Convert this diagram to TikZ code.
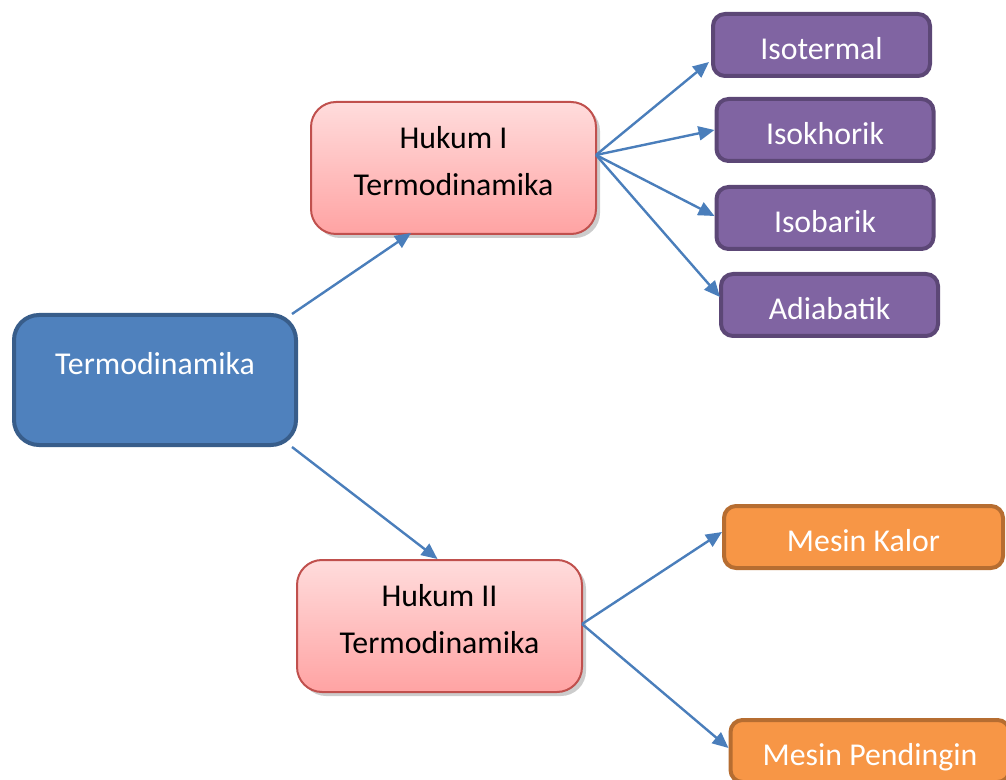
\documentclass[tikz,border=0pt]{standalone}
\usepackage{fontspec}
\setmainfont{Carlito}
\usetikzlibrary{arrows.meta}
\usetikzlibrary{shadows}
\definecolor{topicfill}{HTML}{4F81BD}
\definecolor{topicedge}{HTML}{385D8A}
\definecolor{lawtop}{HTML}{FFDCDC}
\definecolor{lawbottom}{HTML}{FFA3A3}
\definecolor{lawedge}{HTML}{C0504D}
\definecolor{procfill}{HTML}{8064A2}
\definecolor{procedge}{HTML}{5C4776}
\definecolor{machfill}{HTML}{F79646}
\definecolor{machedge}{HTML}{B66D31}
\definecolor{linkblue}{HTML}{4A7EBB}
\tikzset{boxfont/.style = {font=\fontsize{15.9pt}{23.5pt}\selectfont, inner sep=0pt}}
\tikzset{topicbox/.style = {boxfont, draw=topicedge, line width=2pt, fill=topicfill, text=white,
                            rounded corners=12.5pt, minimum width=141pt, minimum height=65pt,
                            text height=10.2pt, text depth=15.9pt}}
\tikzset{lawbox/.style = {boxfont, draw=lawedge, line width=1pt, top color=lawtop, bottom color=lawbottom,
                          rounded corners=12.5pt, minimum width=142.5pt, minimum height=66pt, align=center,
                          text height=34.2pt, text depth=7pt,
                          drop shadow={shadow xshift=2pt, shadow yshift=-2pt, opacity=0.4}}}
\tikzset{procbox/.style = {boxfont, draw=procedge, line width=2pt, fill=procfill, text=white,
                           rounded corners=6pt, minimum width=108.5pt, minimum height=31pt,
                           text height=14.3pt, text depth=0pt}}
\tikzset{machbox/.style = {boxfont, draw=machedge, line width=2pt, fill=machfill, text=white,
                           rounded corners=6pt, minimum width=139.5pt, minimum height=31pt,
                           text height=14.3pt, text depth=0pt}}
\tikzset{link/.style = {draw=linkblue, line width=1.2pt, -{Triangle[length=8pt,width=7pt]}}}

\begin{document}
\begin{tikzpicture}[x=0.5pt, y=-0.5pt]
        \useasboundingbox (0,0) rectangle (1006,780);
        \clip (0,0) rectangle (1006,780);
        \node[topicbox] (termo) at (155,380) {Termodinamika};
        \node[lawbox] (hukum1) at (453.5,168) {Hukum I\\Termodinamika};
        \node[lawbox] (hukum2) at (439.5,626) {Hukum II\\Termodinamika};
        \node[procbox] (isoterm) at (821.5,45) {Isotermal};
        \node[procbox] (isokhor) at (825,130) {Isokhorik};
        \node[procbox] (isobar) at (825,218) {Isobarik};
        \node[procbox] (adiabat) at (829.5,305) {Adiabatik};
        \node[machbox] (kalor) at (863.5,537) {Mesin Kalor};
        \node[machbox] (dingin) at (870,751) {Mesin Pendingin};
        \draw[link] ([shift={(-6,1)}]termo.north east) -- ([shift={(-42.5,-2)}]hukum1.south);
        \draw[link] ([shift={(-6,0)}]termo.south east) -- ([shift={(-2,0)}]hukum2.north);
        \draw[link] ([shift={(-1,-13)}]hukum1.east) -- ([shift={(-2,17)}]isoterm.west);
        \draw[link] ([shift={(-1,-13)}]hukum1.east) -- (isokhor.west);
        \draw[link] ([shift={(-1,-13)}]hukum1.east) -- ([shift={(0,-2)}]isobar.west);
        \draw[link] ([shift={(-1,-13)}]hukum1.east) -- ([shift={(1,-8)}]adiabat.west);
        \draw[link] ([shift={(-1,-2)}]hukum2.east) -- ([shift={(0,-5)}]kalor.west);
        \draw[link] ([shift={(-1,-2)}]hukum2.east) -- ([shift={(0,-3)}]dingin.west);
    \end{tikzpicture}
\end{document}
